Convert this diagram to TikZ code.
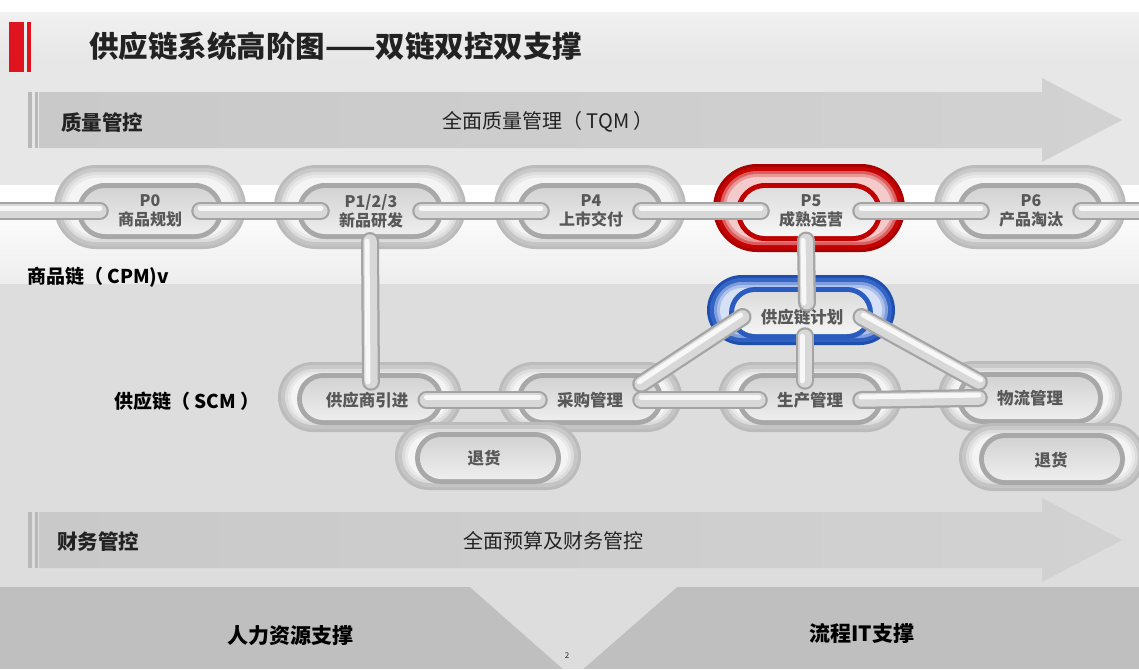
\documentclass[tikz,border=0pt]{standalone}
\usepackage{fontspec}
\setmainfont{Noto Sans CJK SC}
\usetikzlibrary{calc}

\definecolor{bgmain}{HTML}{E2E2E2}
\definecolor{bgtop}{HTML}{E7E7E7}
\definecolor{bgband}{HTML}{EDEDED}
\definecolor{bgmid}{HTML}{DDDDDD}
\definecolor{bgbot}{HTML}{BFBFBF}
\definecolor{titlered}{HTML}{E0141E}
\definecolor{arrL}{HTML}{C9C9C9}
\definecolor{arrM}{HTML}{EEEEEE}
\definecolor{arrR}{HTML}{D2D2D2}
\definecolor{arredge}{HTML}{B9B9B9}
\definecolor{lbl}{HTML}{585858}
\definecolor{txtdark}{HTML}{222222}
% grey ring
\definecolor{greyE}{HTML}{BBBBBB}
\definecolor{greyA}{HTML}{C9C9C9}
\definecolor{greyB}{HTML}{F4F4F4}
\definecolor{greyC}{HTML}{C4C4C4}
\definecolor{greyR}{HTML}{A8A8A8}
\definecolor{greyH}{HTML}{D3D3D3}
\definecolor{greyI}{HTML}{EEEEEE}
% red ring
\definecolor{redE}{HTML}{A80000}
\definecolor{redA}{HTML}{C80404}
\definecolor{redB}{HTML}{F4CACA}
\definecolor{redC}{HTML}{C40202}
\definecolor{redR}{HTML}{C00000}
\definecolor{redH}{HTML}{DEDEDE}
\definecolor{redI}{HTML}{F6F6F6}
% blue ring
\definecolor{blueE}{HTML}{1F4FAE}
\definecolor{blueA}{HTML}{3566C8}
\definecolor{blueB}{HTML}{D6E0F6}
\definecolor{blueC}{HTML}{3060C0}
\definecolor{blueR}{HTML}{2A5CC0}
\definecolor{blueH}{HTML}{DCDCDC}
\definecolor{blueI}{HTML}{F4F4F4}
% rods
\definecolor{rodE}{HTML}{A4A4A4}
\definecolor{rodB}{HTML}{D8D8D8}
\definecolor{rodH}{HTML}{F7F7F7}

% pill: #1 cx #2 cy #3 hw #4 hh #5 options
\newcommand\Pill[5]{%
  \pgfmathsetmacro\pxa{#1-(#3)}%
  \pgfmathsetmacro\pxb{#1+(#3)}%
  \pgfmathsetmacro\pya{#2-(#4)}%
  \pgfmathsetmacro\pyb{#2+(#4)}%
  \pgfmathsetmacro\pillr{#4}%
  \path[#5, rounded corners=\pillr pt] (\pxa,\pya) rectangle (\pxb,\pyb);
}
% #1 cx #2 cy #3 hw #4 hh #5 hole hw #6 hole hh #7 hole dy #8 scheme
\newcommand\ChainRing[8]{%
  \Pill{#1}{#2}{#3}{#4}{fill=#8E}
  \Pill{#1}{#2}{#3-3}{#4-3}{top color=#8A, bottom color=#8C}
  \Pill{#1}{#2}{#3-7}{#4-7}{fill=#8A!55!#8B}
  \Pill{#1}{#2}{#3-10}{#4-10}{fill=#8A!25!#8B}
  \Pill{#1}{#2}{#3-13}{#4-13}{fill=#8B}
  \Pill{#1}{#2+#7}{#5+5}{#6+5}{fill=#8R}
  \Pill{#1}{#2+#7}{#5}{#6}{top color=#8H, bottom color=#8I}
}
% rod between two points, #3 highlight shift
\newcommand\Rod[3]{%
  \draw[line width=18pt, rodE, line cap=round] #1 -- #2;
  \draw[line width=13.5pt, rodB, line cap=round] #1 -- #2;
  \draw[line width=5pt, rodH, line cap=round, transform canvas={shift={#3}}] #1 -- #2;
}

\begin{document}
\begin{tikzpicture}[x=1pt,y=-1pt,
  toplbl/.style={font=\fontsize{16}{19}\selectfont\bfseries, text=lbl, align=center, inner xsep=18pt, inner ysep=0pt},
  scmlbl/.style={font=\fontsize{16.5}{20}\selectfont\bfseries, text=lbl, inner xsep=18pt, inner ysep=8pt},
  bandhead/.style={font=\fontsize{20.5}{24}\selectfont\bfseries, text=txtdark, anchor=west, inner sep=0pt},
  bandtext/.style={font=\fontsize{20}{24}\selectfont, text=txtdark, inner sep=0pt},
  sidelbl/.style={font=\fontsize{19}{22}\selectfont\bfseries, text=black, anchor=west, inner sep=0pt},
  bottomtext/.style={font=\fontsize{21}{25}\selectfont\bfseries, text=black, inner sep=0pt}
]
\useasboundingbox (0,0) rectangle (1139,669);
% ---------- background ----------
\fill[bgmain] (0,0) rectangle (1139,669);
\fill[white] (0,0) rectangle (1139,13);
\shade[top color=bgtop!60!white, bottom color=bgtop] (0,13) rectangle (1139,60);
\fill[bgtop] (0,60) rectangle (1139,185);
\fill[white] (0,185) rectangle (1139,201);
\shade[top color=white, bottom color=bgband] (0,200) rectangle (1139,284);
\fill[bgmid] (0,284) rectangle (1139,587);
\fill[bgbot] (0,587) rectangle (1139,669);
\fill[bgmid] (470,587) -- (677,587) -- (583,669) -- (563,669) -- cycle;

% ---------- title ----------
\fill[titlered] (9,22) rectangle (24,72);
\fill[titlered] (27,22) rectangle (31,72);
\node[anchor=west, inner sep=0pt, font=\fontsize{29.5}{33}\selectfont\bfseries, text=txtdark] (title) at (89,46) {供应链系统高阶图——双链双控双支撑};

% ---------- quality arrow ----------
\shade[left color=arrL, middle color=arrM, right color=arrR]
  (39,92) -- (1042,92) -- (1042,78) -- (1122,120) -- (1042,162) -- (1042,148) -- (39,148) -- cycle;
\fill[arredge] (28,92) rectangle (32,148);
\fill[arredge] (35,92) rectangle (38,148);
\node[bandhead] (qc) at (61,123) {质量管控};
\node[bandtext] (tqm) at (548,122) {全面质量管理（ TQM ）};

% ---------- finance arrow ----------
\shade[left color=arrL, middle color=arrM, right color=arrR]
  (39,512) -- (1042,512) -- (1042,498) -- (1122,540) -- (1042,582) -- (1042,568) -- (39,568) -- cycle;
\fill[arredge] (28,512) rectangle (32,568);
\fill[arredge] (35,512) rectangle (38,568);
\node[bandhead] (fc) at (57,542) {财务管控};
\node[bandtext] (bud) at (553,541) {全面预算及财务管控};

% ---------- bottom supports ----------
\node[bottomtext] (hr) at (290,636) {人力资源支撑};
\node[bottomtext] (it) at (862,634) {流程IT支撑};
\node[font=\fontsize{8}{9}\selectfont, text=txtdark, inner sep=0pt] (pg) at (567,656) {2};

% ---------- rings ----------
\ChainRing{150}{207}{96}{42}{68}{23}{4}{grey}
\ChainRing{370}{207}{96}{42}{68}{23}{4}{grey}
\ChainRing{590}{207}{96}{42}{68}{23}{4}{grey}
\ChainRing{809}{208}{96}{44}{68}{24}{4}{red}
\ChainRing{1030}{207}{96}{42}{68}{23}{4}{grey}
\ChainRing{801}{310}{94}{35}{67}{21}{3}{blue}
\ChainRing{370}{397}{92}{35}{68}{21}{2}{grey}
\ChainRing{590}{397}{92}{35}{68}{21}{2}{grey}
\ChainRing{810}{397}{92}{35}{68}{21}{2}{grey}
\ChainRing{1030}{396}{92}{35}{68}{21}{2}{grey}
\ChainRing{488}{456}{93}{34}{68}{21}{2}{grey}
\ChainRing{1052}{457}{93}{34}{68}{21}{2}{grey}

% ---------- labels ----------
\node[toplbl] (p0) at (150,211) {P0\\商品规划};
\node[toplbl] (p1) at (371,211) {P1/2/3\\新品研发};
\node[toplbl] (p4) at (591,211) {P4\\上市交付};
\node[toplbl] (p5) at (811,211) {P5\\成熟运营};
\node[toplbl] (p6) at (1031,211) {P6\\产品淘汰};
\node[scmlbl] (plan) at (802,317) {供应链计划};
\node[scmlbl] (spl) at (367,400) {供应商引进};
\node[scmlbl] (cg) at (590,400) {采购管理};
\node[scmlbl] (sc) at (810,400) {生产管理};
\node[scmlbl] (wl) at (1030,398) {物流管理};
\node[scmlbl] (th1) at (484,458) {退货};
\node[scmlbl] (th2) at (1051,460) {退货};
\node[sidelbl] (cpm) at (27,277) {商品链（ CPM)v};
\node[sidelbl] (scm) at (114,401) {供应链（ SCM ）};

\coordinate (L) at (0,211);
\coordinate (R) at (1139,211);

% ---------- rods ----------
\Rod{(L)}{(p0.west)}{(0,-3)}
\Rod{(p0.east)}{(p1.west)}{(0,-3)}
\Rod{(p1.east)}{(p4.west)}{(0,-3)}
\Rod{(p4.east)}{(p5.west)}{(0,-3)}
\Rod{(p5.east)}{(p6.west)}{(0,-3)}
\Rod{(p6.east)}{(R)}{(0,-3)}
\Rod{([xshift=-1pt,yshift=-13pt]p1.south)}{([xshift=4pt,yshift=2pt]spl.north)}{(-3,0)}
\Rod{([xshift=-5pt,yshift=-13pt]p5.south)}{([xshift=5pt,yshift=-2pt]plan.north)}{(-3,0)}
\Rod{([xshift=3pt,yshift=-3pt]plan.south)}{([xshift=-5pt,yshift=3pt]sc.north)}{(-3,0)}
\Rod{(plan.west)}{(cg.north east)}{(-2,-2)}
\Rod{(plan.east)}{(wl.north west)}{(2,-2)}
\Rod{(spl.east)}{(cg.west)}{(0,-3)}
\Rod{(cg.east)}{(sc.west)}{(0,-3)}
\Rod{(sc.east)}{(wl.west)}{(0,-3)}
\end{tikzpicture}
\end{document}
